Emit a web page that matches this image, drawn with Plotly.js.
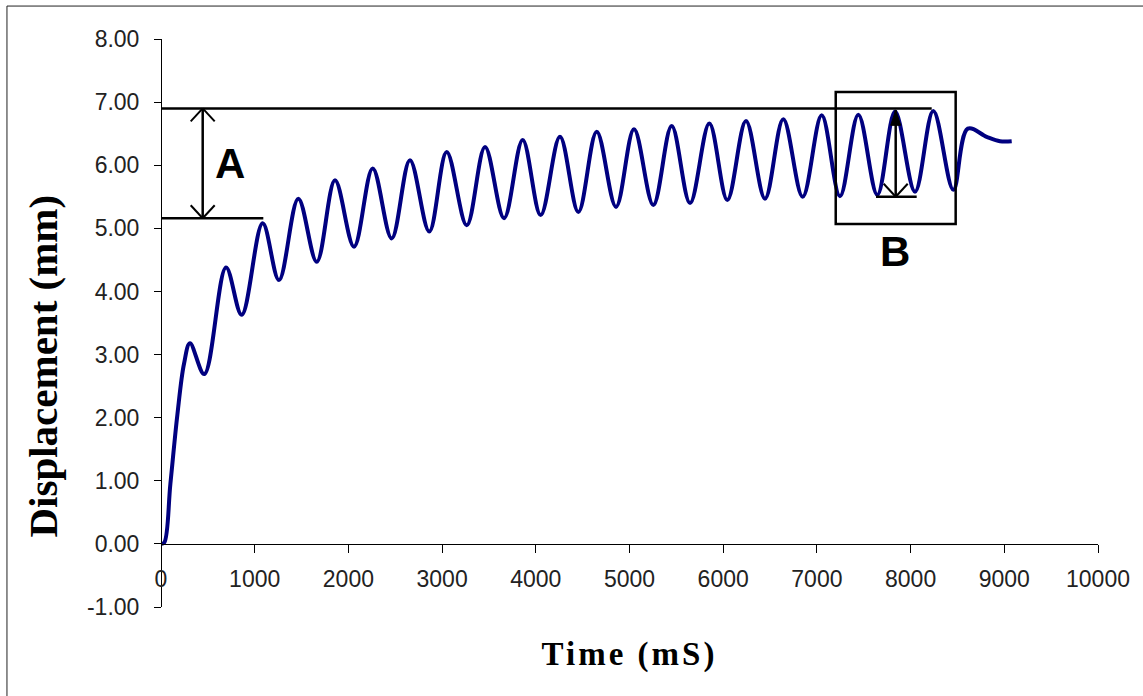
<!DOCTYPE html>
<html>
<head>
<meta charset="utf-8">
<script src="https://cdn.plot.ly/plotly-3.0.1.min.js"></script>
<style>
  html, body { margin: 0; padding: 0; background: #fff; }
  #chart { width: 1143px; height: 696px; }
</style>
</head>
<body>
<div id="chart"></div>
<script>
// ---- Data ----
const timeMs = [0, 35, 100, 175, 245, 309, 462, 694, 861, 1085, 1259, 1465, 1662, 1857, 2060,
  2259, 2462, 2657, 2863, 3049, 3263, 3458, 3661, 3860, 4052, 4258, 4454, 4650, 4856, 5048,
  5254, 5450, 5646, 5852, 6044, 6243, 6446, 6641, 6848, 7051, 7246, 7442, 7645, 7834, 8047,
  8242, 8456, 8610, 8812, 8954, 9079];
const displacementMm = [0, 0.02, 0.95, 2.05, 2.85, 3.18, 2.69, 4.38, 3.63, 5.08, 4.18, 5.47, 4.47, 5.76, 4.71,
  5.95, 4.84, 6.08, 4.95, 6.21, 5.05, 6.29, 5.16, 6.40, 5.21, 6.45, 5.26, 6.53, 5.34, 6.57,
  5.37, 6.62, 5.40, 6.66, 5.45, 6.70, 5.47, 6.73, 5.50, 6.79, 5.51, 6.80, 5.53, 6.85, 5.58,
  6.86, 5.61, 6.58, 6.45, 6.38, 6.38];

const yTickVals = [-1, 0, 1, 2, 3, 4, 5, 6, 7, 8];
const yTickText = ["-1.00", "0.00", "1.00", "2.00", "3.00", "4.00", "5.00", "6.00", "7.00", "8.00"];
const xTickVals = [0, 1000, 2000, 3000, 4000, 5000, 6000, 7000, 8000, 9000, 10000];
const xTickText = ["0", "1000", "2000", "3000", "4000", "5000", "6000", "7000", "8000", "9000", "10000"];

// Annotation markers (A: rise to max, B: oscillation amplitude)
const levelMax = 6.90;      // upper reference line
const levelFirst = 5.16;    // lower reference line
const levelMaxEnd = 8225;
const levelFirstEnd = 1092;
const arrowAx = 445;
const labelA = { x: 736, y: 6.03 };
const boxB = { x0: 7201, x1: 8481, y0: 5.07, y1: 7.16 };
const arrowB = { x: 7841, y0: 5.50, y1: 6.87, baseX0: 7631, baseX1: 8065 };
const labelB = { x: 7834, y: 4.63 };

const black = '#000000';
const lineStyle = { color: black, width: 2.5 };

function vHead(x, y, up, filled) {
  // arrowhead drawn in pixel units around an anchor point in data units
  const d = up ? -1 : 1;
  if (filled) {
    return { type: 'path', xref: 'x', yref: 'y', xsizemode: 'pixel', ysizemode: 'pixel',
      xanchor: x, yanchor: y, path: `M0,0 L-5,${d * 15} L5,${d * 15} Z`,
      fillcolor: black, line: { color: black, width: 1 } };
  }
  return [-12, 12].map(dx => ({ type: 'line', xref: 'x', yref: 'y', xsizemode: 'pixel', ysizemode: 'pixel',
    xanchor: x, yanchor: y, x0: 0, y0: 0, x1: dx, y1: d * 13, line: { color: black, width: 2 } }));
}

const shapes = [
  // outer frame (cropped at right/bottom)
  { type: 'rect', xref: 'paper', yref: 'paper', x0: -0.1644, x1: 1.06, y0: -0.17, y1: 1.058,
    line: { color: '#222', width: 1 }, fillcolor: 'rgba(0,0,0,0)', layer: 'below' },
  { type: 'line', xref: 'x', yref: 'y', x0: -15, x1: levelMaxEnd, y0: levelMax, y1: levelMax, line: lineStyle },
  { type: 'line', xref: 'x', yref: 'y', x0: 0, x1: levelFirstEnd, y0: levelFirst, y1: levelFirst, line: lineStyle },
  { type: 'line', xref: 'x', yref: 'y', x0: arrowAx, x1: arrowAx, y0: levelFirst, y1: levelMax, line: lineStyle },
  ...vHead(arrowAx, levelMax, true, false),
  ...vHead(arrowAx, levelFirst, false, false),
  { type: 'rect', xref: 'x', yref: 'y', x0: boxB.x0, x1: boxB.x1, y0: boxB.y0, y1: boxB.y1,
    line: lineStyle, fillcolor: 'rgba(0,0,0,0)' },
  { type: 'line', xref: 'x', yref: 'y', x0: arrowB.x, x1: arrowB.x, y0: arrowB.y0, y1: arrowB.y1, line: lineStyle },
  { type: 'line', xref: 'x', yref: 'y', x0: arrowB.baseX0, x1: arrowB.baseX1, y0: arrowB.y0, y1: arrowB.y0, line: lineStyle },
  vHead(arrowB.x, arrowB.y1, true, true),
  ...vHead(arrowB.x, arrowB.y0, false, false)
];

const trace = {
  x: timeMs, y: displacementMm, type: 'scatter', mode: 'lines',
  line: { color: '#000080', width: 4, shape: 'spline', smoothing: 1 },
  hoverinfo: 'skip'
};

const tickFont = { family: 'Liberation Sans, Arial, sans-serif', size: 23, color: '#222' };

const layout = {
  width: 1143, height: 696,
  margin: { l: 161, r: 45, t: 39, b: 89, pad: 0 },
  paper_bgcolor: '#fff', plot_bgcolor: '#fff',
  showlegend: false,
  xaxis: {
    range: [0, 10000], tickvals: xTickVals, ticktext: xTickText,
    showgrid: false, zeroline: false, showline: true, linecolor: '#000', linewidth: 1,
    ticks: 'outside', ticklen: 8, tickcolor: '#000', tickwidth: 1,
    tickfont: tickFont, anchor: 'free', position: 1 / 9, ticklabelstandoff: 7,
    title: { text: 'Time (mS)', standoff: 50,
      font: { family: 'Liberation Serif, Times New Roman, serif', size: 33, weight: 'bold', color: '#000' } }
  },
  yaxis: {
    range: [-1, 8], tickvals: yTickVals, ticktext: yTickText,
    showgrid: false, zeroline: false, showline: true, linecolor: '#000', linewidth: 1,
    ticks: 'outside', ticklen: 7, tickcolor: '#000', tickwidth: 1,
    tickfont: tickFont, anchor: 'free', position: 0, ticklabelstandoff: 10
  },
  shapes: shapes,
  annotations: [
    { text: 'Displacement (mm)', xref: 'paper', yref: 'paper', x: -0.126, y: 0.425,
      xanchor: 'center', yanchor: 'middle', textangle: -90, showarrow: false,
      font: { family: 'Liberation Serif, Times New Roman, serif', size: 41, weight: 'bold', color: '#000' } },
    { text: 'A', xref: 'x', yref: 'y', x: labelA.x, y: labelA.y, showarrow: false,
      xanchor: 'center', yanchor: 'middle',
      font: { family: 'Liberation Sans, Arial, sans-serif', size: 42, weight: 'bold', color: '#000' } },
    { text: 'B', xref: 'x', yref: 'y', x: labelB.x, y: labelB.y, showarrow: false,
      xanchor: 'center', yanchor: 'middle',
      font: { family: 'Liberation Sans, Arial, sans-serif', size: 42, weight: 'bold', color: '#000' } }
  ],
  hovermode: false
};

Plotly.newPlot('chart', [trace], layout, { displayModeBar: false, staticPlot: true }).then(() => {
  document.querySelectorAll('.xtitle').forEach(e => { e.style.letterSpacing = '3px'; });
});
</script>
</body>
</html>
